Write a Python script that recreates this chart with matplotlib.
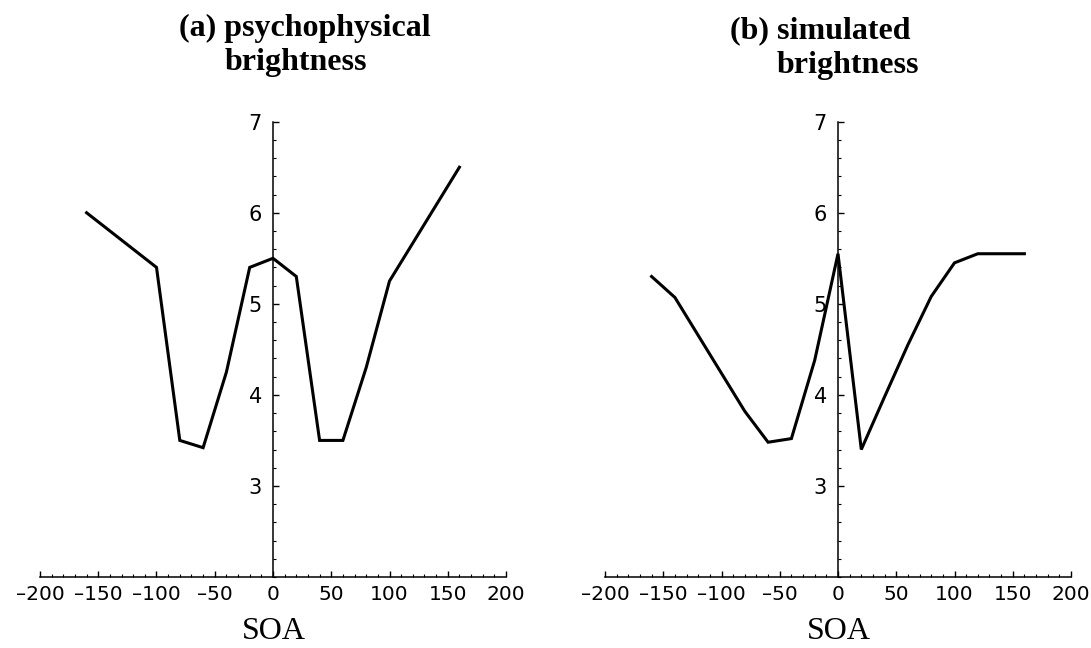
import matplotlib
matplotlib.use("Agg")
import matplotlib.pyplot as plt
from matplotlib.ticker import MultipleLocator, FixedLocator, FuncFormatter

# Data
soa_a = [-160, -100, -80, -60, -40, -20, 0, 20, 40, 60, 80, 100, 160]
bright_a = [6.0, 5.4, 3.5, 3.42, 4.25, 5.4, 5.5, 5.3, 3.5, 3.5, 4.3, 5.25, 6.5]

soa_b = [-160, -140, -80, -60, -40, -20, 0, 20, 40, 60, 80, 100, 120, 160]
bright_b = [5.3, 5.07, 3.82, 3.48, 3.52, 4.38, 5.55, 3.4, 3.98, 4.55, 5.08, 5.45, 5.55, 5.55]

x_ticks = [-200, -150, -100, -50, 0, 50, 100, 150, 200]
y_ticks = [3, 4, 5, 6, 7]

titles_a = ["(a) psychophysical", "brightness"]
titles_b = ["(b) simulated", "brightness"]
xlabel = "SOA"

W, H = 1091, 648
fig = plt.figure(figsize=(W / 100, H / 100), dpi=100)

serif = ["Liberation Serif", "DejaVu Serif"]


def fmt(v, pos):
    s = f"{int(round(v))}"
    return s.replace("-", "\u2013")


def make_axes(left_px, xs, ys):
    ax = fig.add_axes([left_px / W, 1 - 577 / H, 466 / W, (577 - 121.7) / H])
    ax.plot(xs, ys, color="black", lw=2.2, solid_joinstyle="miter")
    ax.set_xlim(-200, 200)
    ax.set_ylim(2, 7)
    ax.spines["top"].set_visible(False)
    ax.spines["right"].set_visible(False)
    ax.spines["left"].set_position(("data", 0))
    ax.spines["left"].set_bounds(2, 7)
    for s in ("left", "bottom"):
        ax.spines[s].set_linewidth(1.1)
    ax.xaxis.set_major_locator(FixedLocator(x_ticks))
    ax.xaxis.set_major_formatter(FuncFormatter(fmt))
    ax.xaxis.set_minor_locator(MultipleLocator(10))
    ax.yaxis.set_major_locator(FixedLocator(y_ticks))
    ax.yaxis.set_minor_locator(MultipleLocator(0.2))
    ax.tick_params(axis="both", which="major", direction="in", length=4, width=1.0,
                   labelsize=14.5)
    ax.tick_params(axis="y", which="major", labelsize=15)
    ax.tick_params(axis="both", which="minor", direction="in", length=2, width=0.8)
    ax.tick_params(axis="x", which="major", pad=6)
    ax.tick_params(axis="y", which="major", pad=8)
    ax.patch.set_alpha(0)
    for lab in ax.get_xticklabels():
        lab.set_x(lab.get_position()[0])
    return ax


ax1 = make_axes(40, soa_a, bright_a)
ax2 = make_axes(605, soa_b, bright_b)

# Titles
fig.text(305 / W, 1 - 36 / H, titles_a[0], ha="center", va="baseline",
         fontsize=23, fontweight="bold", family=serif)
fig.text(296 / W, 1 - 70 / H, titles_a[1], ha="center", va="baseline",
         fontsize=23, fontweight="bold", family=serif)
fig.text(820 / W, 1 - 38 / H, titles_b[0], ha="center", va="baseline",
         fontsize=23, fontweight="bold", family=serif)
fig.text(848 / W, 1 - 73 / H, titles_b[1], ha="center", va="baseline",
         fontsize=23, fontweight="bold", family=serif)

# x labels
fig.text(274 / W, 2 / H, xlabel, ha="center", va="bottom",
         fontsize=23, family=serif)
fig.text(839 / W, 2 / H, xlabel, ha="center", va="bottom",
         fontsize=23, family=serif)

fig.savefig("out.png", dpi=100)
